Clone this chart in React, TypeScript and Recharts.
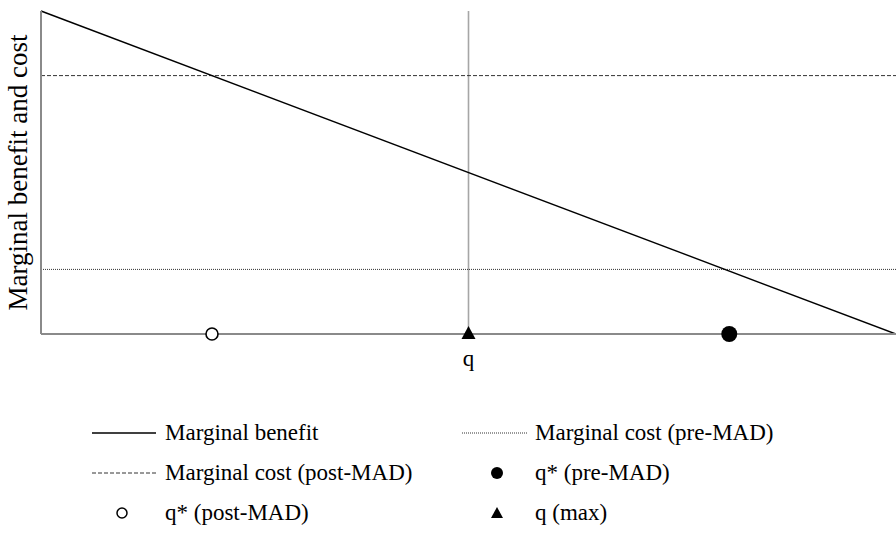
import {
  ComposedChart,
  Line,
  ReferenceLine,
  Scatter,
  XAxis,
  YAxis,
} from "recharts";

// quantity axis 0..100, benefit/cost axis 0..100
const benefitLine = [
  { q: 0, v: 100 },
  { q: 100, v: 0 },
];
const MC_PRE = 20;
const MC_POST = 80;
const Q_MAX = 50;
const qStarPre = [{ q: 80.5, v: 0 }];
const qStarPost = [{ q: 20, v: 0 }];
const qMax = [{ q: Q_MAX, v: 0 }];

const FONT = '"Liberation Serif", Tinos, "Times New Roman", Times, "DejaVu Serif", serif';
const AXIS = "#8a8a8a";

type IconKind = "solid" | "dotted" | "dashed" | "dot" | "ring" | "tri";

const LEGEND_ROWS: { kind: IconKind; label: string }[][] = [
  [
    { kind: "solid", label: "Marginal benefit" },
    { kind: "dotted", label: "Marginal cost (pre-MAD)" },
  ],
  [
    { kind: "dashed", label: "Marginal cost (post-MAD)" },
    { kind: "dot", label: "q* (pre-MAD)" },
  ],
  [
    { kind: "ring", label: "q* (post-MAD)" },
    { kind: "tri", label: "q (max)" },
  ],
];

function Icon({ kind }: { kind: IconKind }) {
  return (
    <svg width={66} height={20} style={{ display: "block" }}>
      {kind === "solid" && <line x1={0} y1={10} x2={64} y2={10} stroke="#000" strokeWidth={1.3} />}
      {kind === "dotted" && (
        <line x1={0} y1={10} x2={66} y2={10} stroke="#333" strokeWidth={1} strokeDasharray="1 1" />
      )}
      {kind === "dashed" && (
        <line x1={0} y1={10} x2={64} y2={10} stroke="#333" strokeWidth={1} strokeDasharray="4 2" />
      )}
      {kind === "dot" && <circle cx={35} cy={10} r={6} fill="#000" />}
      {kind === "ring" && <circle cx={30} cy={10} r={5} fill="#fff" stroke="#000" strokeWidth={1.5} />}
      {kind === "tri" && <polygon points="35,4 41,15 29,15" fill="#000" />}
    </svg>
  );
}

const TriangleShape = (props: any) => {
  const { cx, cy } = props;
  return <polygon points={`${cx},${cy - 8} ${cx + 7},${cy + 5} ${cx - 7},${cy + 5}`} fill="#000" />;
};
const FilledDot = (props: any) => <circle cx={props.cx} cy={props.cy} r={8} fill="#000" />;
const OpenDot = (props: any) => (
  <circle cx={props.cx} cy={props.cy} r={6} fill="#fff" stroke="#000" strokeWidth={1.6} />
);

export default function App() {
  return (
    <div style={{ position: "relative", width: 896, height: 543, fontFamily: FONT, background: "#fff" }}>
      <style>{`body{margin:0}`}</style>
      <ComposedChart
        width={896}
        height={543}
        data={benefitLine}
        margin={{ top: 11, right: 0, left: 0, bottom: 169 }}
        style={{ fontFamily: FONT }}
      >
        <XAxis
          dataKey="q"
          type="number"
          domain={[0, 100]}
          tick={false}
          tickLine={false}
          height={40}
          axisLine={{ stroke: AXIS, strokeWidth: 2 }}
          label={{ value: "q", position: "insideTop", offset: 16, fontFamily: FONT, fontSize: 23, fill: "#000" }}
        />
        <YAxis
          type="number"
          domain={[0, 100]}
          tick={false}
          tickLine={false}
          width={41}
          axisLine={{ stroke: AXIS, strokeWidth: 2 }}
          label={{
            value: "Marginal benefit and cost",
            angle: -90,
            position: "insideLeft",
            offset: 17,
            fontFamily: FONT,
            fontSize: 27,
            fill: "#000",
            style: { textAnchor: "middle" },
          }}
        />
        <ReferenceLine x={Q_MAX} stroke="#a6a6a6" strokeWidth={1.6} />
        <ReferenceLine y={MC_POST} stroke="#333" strokeWidth={1} strokeDasharray="4 2" />
        <ReferenceLine y={MC_PRE} stroke="#333" strokeWidth={1} strokeDasharray="1 1" />
        <Line
          dataKey="v"
          type="linear"
          stroke="#000"
          strokeWidth={1.4}
          dot={false}
          isAnimationActive={false}
        />
        <Scatter data={qStarPost} dataKey="v" shape={OpenDot} isAnimationActive={false} />
        <Scatter data={qMax} dataKey="v" shape={TriangleShape} isAnimationActive={false} />
        <Scatter data={qStarPre} dataKey="v" shape={FilledDot} isAnimationActive={false} />
      </ComposedChart>
      <div style={{ position: "absolute", left: 92, top: 413, fontSize: 23, lineHeight: "40px" }}>
        {LEGEND_ROWS.map((row, i) => (
          <div key={i} style={{ display: "flex", height: 40, alignItems: "center" }}>
            {row.map((item, j) => (
              <div key={j} style={{ display: "flex", alignItems: "center", width: j === 0 ? 370 : 400 }}>
                <div style={{ width: 73 }}>
                  <Icon kind={item.kind} />
                </div>
                <span>{item.label}</span>
              </div>
            ))}
          </div>
        ))}
      </div>
    </div>
  );
}
